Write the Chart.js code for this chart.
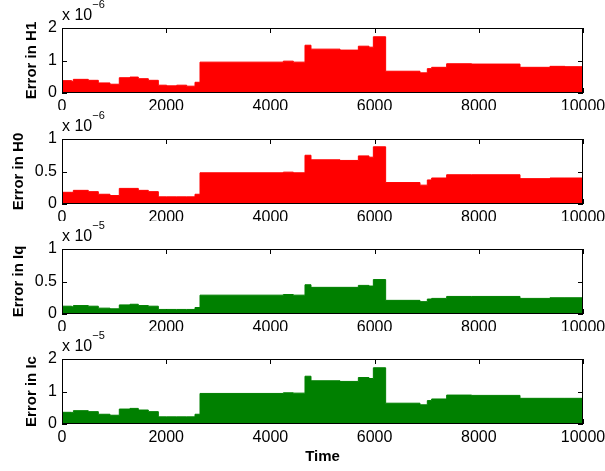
<!DOCTYPE html>
<html>
<head>
<meta charset="utf-8">
<script src="https://cdn.jsdelivr.net/npm/chart.js@4/dist/chart.umd.min.js"></script>
<style>
  body { margin: 0; background: #fff; width: 605px; height: 471px; overflow: hidden; position: relative; }
  .panel { position: absolute; left: 0; width: 605px; }
</style>
</head>
<body>
<div class="panel" style="top:0px;height:110px"><canvas id="h1"></canvas></div>
<div class="panel" style="top:111px;height:110px"><canvas id="h0"></canvas></div>
<div class="panel" style="top:221px;height:110px"><canvas id="iq"></canvas></div>
<div class="panel" style="top:331px;height:140px"><canvas id="ic"></canvas></div>
<script>
// step start times (last entry = end of the record)
const times = [0, 186, 218, 505, 697, 921, 1100, 1305, 1465, 1657, 1849, 2009, 2201, 2393, 2553,
  2649, 4248, 4440, 4664, 4779, 5336, 5688, 5892, 5976, 6212, 6871, 7012, 7095, 7383, 7863,
  8791, 9366, 9654, 10000];

// values in units of the axis multiplier
const h1Values = [0.38, 0.36, 0.42, 0.39, 0.31, 0.27, 0.47, 0.49, 0.44, 0.39, 0.24, 0.22, 0.24, 0.21, 0.33,
  0.95, 0.98, 0.95, 1.47, 1.35, 1.32, 1.44, 1.41, 1.73, 0.67, 0.62, 0.75, 0.79, 0.90, 0.89,
  0.79, 0.82, 0.81, 0.79];          // x 1e-6
const h0Values = [0.18, 0.18, 0.21, 0.19, 0.15, 0.13, 0.24, 0.24, 0.21, 0.19, 0.11, 0.11, 0.11, 0.11, 0.15,
  0.48, 0.49, 0.48, 0.75, 0.68, 0.67, 0.74, 0.72, 0.88, 0.33, 0.29, 0.37, 0.40, 0.45, 0.45,
  0.39, 0.40, 0.40, 0.39];          // x 1e-6
const iqValues = [0.12, 0.11, 0.13, 0.12, 0.09, 0.08, 0.14, 0.15, 0.13, 0.12, 0.07, 0.07, 0.07, 0.07, 0.10,
  0.29, 0.30, 0.29, 0.45, 0.41, 0.41, 0.44, 0.43, 0.53, 0.21, 0.19, 0.23, 0.24, 0.27, 0.27,
  0.24, 0.25, 0.25, 0.24];          // x 1e-5
const icValues = [0.36, 0.35, 0.41, 0.38, 0.30, 0.27, 0.46, 0.48, 0.43, 0.38, 0.22, 0.22, 0.22, 0.22, 0.30,
  0.94, 0.96, 0.95, 1.47, 1.33, 1.31, 1.43, 1.40, 1.73, 0.64, 0.59, 0.72, 0.77, 0.89, 0.88,
  0.79, 0.79, 0.79, 0.78];          // x 1e-5

const xTicks = [0, 2000, 4000, 6000, 8000, 10000];

const FONT = "'Liberation Sans', Arial, Helvetica, sans-serif";

// box around the axes, inward tick marks and the "x 10^n" multiplier
const matlabAxes = {
  id: 'matlabAxes',
  beforeDatasetsDraw(chart) {
    const { ctx, chartArea: a, scales: { x, y } } = chart;
    ctx.save();
    ctx.strokeStyle = '#000';
    ctx.lineWidth = 1;
    ctx.beginPath();
    x.ticks.forEach(t => {
      const px = Math.round(x.getPixelForValue(t.value)) + 0.5;
      ctx.moveTo(px, a.top); ctx.lineTo(px, a.top + 5);
      ctx.moveTo(px, a.bottom); ctx.lineTo(px, a.bottom - 5);
    });
    y.ticks.forEach(t => {
      const py = Math.round(y.getPixelForValue(t.value)) + 0.5;
      ctx.moveTo(a.left, py); ctx.lineTo(a.left + 5, py);
      ctx.moveTo(a.right, py); ctx.lineTo(a.right - 5, py);
    });
    ctx.stroke();
    ctx.restore();
  },
  afterDraw(chart, args, opts) {
    const { ctx, chartArea: a } = chart;
    ctx.save();
    ctx.strokeStyle = '#000';
    ctx.lineWidth = 1;
    ctx.strokeRect(Math.round(a.left) + 0.5, Math.round(a.top) + 0.5,
      Math.round(a.width) - 1, Math.round(a.height) - 1);
    ctx.fillStyle = '#000';
    ctx.textBaseline = 'alphabetic';
    ctx.font = '16px ' + FONT;
    ctx.fillText('x 10', a.left, a.top - 8);
    const w = ctx.measureText('x 10').width;
    ctx.font = '11px ' + FONT;
    ctx.fillText(opts.exp, a.left + w, a.top - 20);
    ctx.restore();
  }
};

function makeChart(id, values, color, yMax, yStep, yTitle, titlePad, exp, withTime) {
  const points = times.map((t, i) => ({ x: t, y: values[i] }));
  return new Chart(document.getElementById(id), {
    type: 'line',
    data: {
      datasets: [{
        data: points,
        stepped: true,
        fill: 'origin',
        backgroundColor: color,
        borderColor: color,
        borderWidth: 1,
        pointRadius: 0
      }]
    },
    options: {
      responsive: true,
      maintainAspectRatio: false,
      animation: false,
      layout: { padding: { top: 28, right: 22, left: 0, bottom: 0 } },
      plugins: {
        legend: { display: false },
        tooltip: { enabled: false },
        matlabAxes: { exp: exp }
      },
      scales: {
        x: {
          type: 'linear',
          min: 0,
          max: 10000,
          afterBuildTicks: s => { s.ticks = xTicks.map(v => ({ value: v })); },
          afterFit: s => {
            s.height = withTime ? 47 : 17;
            s.paddingLeft = 0;
            s.paddingRight = 0;
          },
          grid: { display: false, drawTicks: false },
          border: { display: false },
          ticks: {
            padding: 4,
            color: '#000',
            maxRotation: 0,
            font: { family: FONT, size: 16 },
            callback: v => String(v)
          },
          title: {
            display: withTime,
            text: 'Time',
            color: '#000',
            padding: { top: 0, bottom: 5 },
            font: { family: FONT, size: 15, weight: 'bold' }
          }
        },
        y: {
          min: 0,
          max: yMax,
          afterFit: s => {
            s.width = 62;
            s.paddingTop = 0;
            s.paddingBottom = 0;
          },
          grid: { display: false, drawTicks: false },
          border: { display: false },
          ticks: {
            stepSize: yStep,
            padding: 5,
            color: '#000',
            font: { family: FONT, size: 16 },
            callback: v => String(v)
          },
          title: {
            display: true,
            text: yTitle,
            color: '#000',
            padding: { top: titlePad, bottom: 0 },
            font: { family: FONT, size: 15, weight: 'bold' }
          }
        }
      }
    },
    plugins: [matlabAxes]
  });
}

makeChart('h1', h1Values, '#ff0000', 2, 1, 'Error in H1', 23, '\u22126', false);
makeChart('h0', h0Values, '#ff0000', 1, 0.5, 'Error in H0', 10, '\u22126', false);
makeChart('iq', iqValues, '#008000', 1, 0.5, 'Error in Iq', 10, '\u22125', false);
makeChart('ic', icValues, '#008000', 2, 1, 'Error in Ic', 23, '\u22125', true);
</script>
</body>
</html>
